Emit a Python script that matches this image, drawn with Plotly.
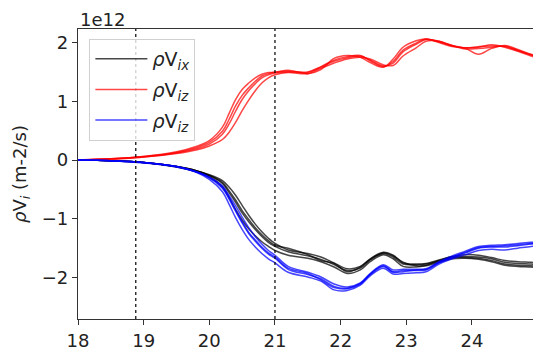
import plotly.graph_objects as go

# Time axis shared by every run
t = [18.0, 18.5, 19.0, 19.5, 19.8, 20.0, 20.2, 20.3, 20.4, 20.5, 20.6, 20.7,
     20.8, 20.9, 21.0, 21.2, 21.5, 21.7, 21.9, 22.1, 22.3, 22.45, 22.65, 22.8,
     22.95, 23.15, 23.3, 23.5, 23.7, 23.9, 24.1, 24.3, 24.5, 24.7, 24.9, 25.0]

# Momentum flux components (units of 1e12 m-2/s), four runs each
flux_ix = [
    [0, -0.01, -0.04, -0.11, -0.18, -0.25, -0.35, -0.46, -0.60, -0.77, -0.94, -1.09, -1.22, -1.33, -1.42, -1.53, -1.59, -1.65, -1.75, -1.85, -1.81, -1.68, -1.57, -1.62, -1.75, -1.77, -1.76, -1.70, -1.64, -1.61, -1.62, -1.66, -1.71, -1.73, -1.74, -1.75],
    [0, -0.01, -0.04, -0.11, -0.18, -0.26, -0.40, -0.55, -0.72, -0.90, -1.05, -1.18, -1.30, -1.40, -1.47, -1.56, -1.63, -1.69, -1.78, -1.88, -1.84, -1.70, -1.59, -1.65, -1.77, -1.78, -1.77, -1.72, -1.66, -1.64, -1.65, -1.68, -1.74, -1.76, -1.77, -1.78],
    [0, -0.01, -0.04, -0.12, -0.20, -0.28, -0.45, -0.63, -0.84, -1.02, -1.17, -1.29, -1.39, -1.47, -1.54, -1.62, -1.67, -1.73, -1.82, -1.93, -1.87, -1.73, -1.61, -1.68, -1.81, -1.82, -1.80, -1.74, -1.68, -1.67, -1.69, -1.73, -1.79, -1.81, -1.82, -1.83],
    [0, -0.01, -0.04, -0.11, -0.18, -0.26, -0.38, -0.52, -0.68, -0.86, -1.01, -1.15, -1.27, -1.37, -1.45, -1.50, -1.61, -1.71, -1.76, -1.90, -1.82, -1.69, -1.58, -1.63, -1.74, -1.80, -1.79, -1.71, -1.65, -1.66, -1.67, -1.71, -1.77, -1.79, -1.80, -1.81],
]
flux_iz_red = [
    [0, 0.02, 0.06, 0.14, 0.23, 0.33, 0.56, 0.79, 1.03, 1.20, 1.31, 1.40, 1.46, 1.49, 1.49, 1.53, 1.47, 1.54, 1.73, 1.78, 1.75, 1.66, 1.58, 1.72, 1.92, 2.03, 2.06, 2.00, 1.93, 1.91, 1.92, 1.96, 1.92, 1.85, 1.77, 1.74],
    [0, 0.02, 0.05, 0.12, 0.19, 0.27, 0.44, 0.61, 0.83, 1.03, 1.18, 1.30, 1.40, 1.45, 1.48, 1.50, 1.49, 1.58, 1.68, 1.74, 1.77, 1.70, 1.60, 1.65, 1.84, 1.97, 2.05, 2.02, 1.95, 1.89, 1.90, 1.92, 1.94, 1.87, 1.79, 1.76],
    [0, 0.01, 0.05, 0.11, 0.17, 0.24, 0.35, 0.47, 0.64, 0.84, 1.02, 1.18, 1.31, 1.40, 1.45, 1.49, 1.47, 1.56, 1.65, 1.72, 1.75, 1.72, 1.62, 1.61, 1.77, 1.91, 2.02, 2.02, 1.94, 1.90, 1.80, 1.90, 1.95, 1.88, 1.80, 1.77],
    [0, 0.02, 0.06, 0.13, 0.21, 0.30, 0.49, 0.69, 0.92, 1.10, 1.23, 1.34, 1.43, 1.47, 1.50, 1.51, 1.50, 1.59, 1.70, 1.76, 1.78, 1.69, 1.59, 1.68, 1.87, 1.99, 2.06, 2.01, 1.95, 1.91, 1.93, 1.94, 1.93, 1.86, 1.79, 1.76],
]
flux_iz_blue = [
    [0, -0.01, -0.04, -0.11, -0.20, -0.29, -0.44, -0.60, -0.78, -0.97, -1.15, -1.30, -1.43, -1.54, -1.62, -1.81, -1.91, -1.99, -2.11, -2.16, -2.09, -1.93, -1.78, -1.87, -1.86, -1.86, -1.85, -1.73, -1.63, -1.55, -1.47, -1.45, -1.44, -1.42, -1.40, -1.39],
    [0, -0.01, -0.04, -0.11, -0.20, -0.30, -0.48, -0.66, -0.87, -1.07, -1.25, -1.38, -1.50, -1.60, -1.67, -1.86, -1.95, -2.02, -2.15, -2.18, -2.10, -1.95, -1.81, -1.90, -1.88, -1.88, -1.87, -1.75, -1.65, -1.58, -1.50, -1.48, -1.48, -1.46, -1.43, -1.42],
    [0, -0.01, -0.05, -0.12, -0.21, -0.33, -0.54, -0.75, -0.98, -1.18, -1.35, -1.48, -1.59, -1.68, -1.75, -1.91, -1.99, -2.06, -2.21, -2.22, -2.13, -1.97, -1.84, -1.94, -1.93, -1.92, -1.90, -1.77, -1.68, -1.61, -1.54, -1.52, -1.53, -1.50, -1.47, -1.46],
    [0, -0.01, -0.04, -0.11, -0.20, -0.30, -0.47, -0.64, -0.85, -1.05, -1.23, -1.36, -1.48, -1.58, -1.65, -1.84, -1.93, -2.04, -2.17, -2.19, -2.11, -1.94, -1.80, -1.91, -1.90, -1.87, -1.86, -1.74, -1.66, -1.57, -1.49, -1.47, -1.46, -1.44, -1.42, -1.41],
]

series_names = ["<i>ρ</i>V<sub><i>ix</i></sub>", "<i>ρ</i>V<sub><i>iz</i></sub>",
                "<i>ρ</i>V<sub><i>iz</i></sub>"]
series_colors = ["black", "red", "blue"]
event_times = [18.88, 21.0]
x_ticks = [18, 19, 20, 21, 22, 23, 24]
y_ticks = [-2, -1, 0, 1, 2]

fig = go.Figure()
for k, (runs, name, color) in enumerate(zip([flux_ix, flux_iz_red, flux_iz_blue],
                                            series_names, series_colors)):
    for j, run in enumerate(runs):
        fig.add_trace(go.Scatter(
            x=t, y=run, mode="lines", name=name,
            line=dict(color=color, width=1.5, shape="spline", smoothing=1.0),
            opacity=0.72, legendgroup=f"g{k}", showlegend=(j == 0),
        ))

for xt in event_times:
    fig.add_vline(x=xt, line=dict(color="black", width=1.2, dash="dot"))

font = dict(family="DejaVu Sans", size=18, color="#222")
fig.update_layout(
    width=533, height=351,
    margin=dict(l=78, r=0, t=29, b=26),
    paper_bgcolor="white", plot_bgcolor="white",
    font=font,
    showlegend=True,
    legend=dict(
        x=0.025, y=0.966, xanchor="left", yanchor="top",
        bgcolor="rgba(255,255,255,0.8)", bordercolor="#d0d0d0", borderwidth=1,
        font=dict(family="DejaVu Sans", size=19, color="#222"),
        tracegroupgap=3, itemwidth=52,
    ),
    xaxis=dict(
        range=[18, 24.93], tickvals=x_ticks, ticks="outside", ticklen=5,
        tickcolor="#333", showline=True, linecolor="#333", linewidth=1.2,
        mirror=True, showgrid=False, zeroline=False,
    ),
    yaxis=dict(
        range=[-2.705, 2.23], tickvals=y_ticks,
        ticktext=["\u22122", "\u22121", "0", "1", "2"],
        ticks="outside", ticklen=5, tickcolor="#333", showline=True,
        linecolor="#333", linewidth=1.2, showgrid=False, zeroline=False,
        title=dict(text="<i>ρ</i>V<sub><i>i</i></sub> (m-2/s)", standoff=10, font=font),
    ),
    annotations=[dict(
        text="1e12", xref="paper", yref="paper", x=0, y=1.0,
        xanchor="left", yanchor="bottom", showarrow=False, font=font,
        yshift=-3,
    )],
)

fig.write_html("out.html")
